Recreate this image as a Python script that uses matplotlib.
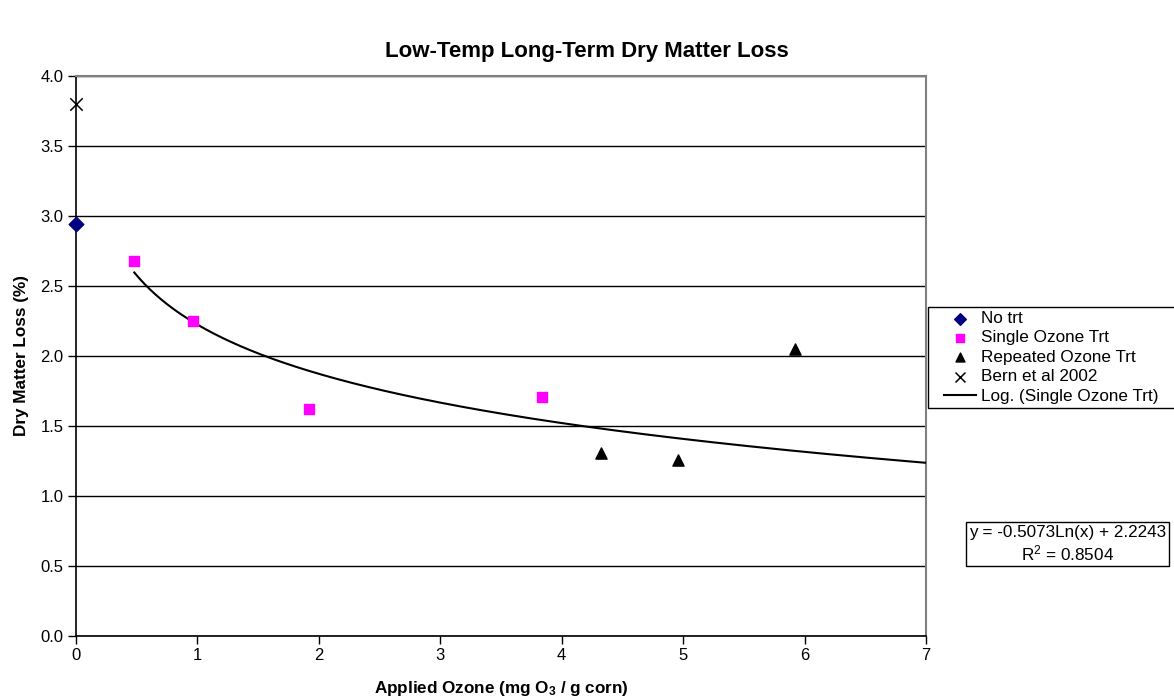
import numpy as np
import matplotlib
matplotlib.use('Agg')
import matplotlib.pyplot as plt
from matplotlib.patches import Rectangle

plt.rcParams['font.family'] = ['Liberation Sans', 'DejaVu Sans']
plt.rcParams['mathtext.default'] = 'regular'

# data
no_trt_x = [0.0]
no_trt_y = [2.94]

single_x = [0.48, 0.96, 1.92, 3.84]
single_y = [2.68, 2.25, 1.62, 1.71]

repeated_x = [4.32, 4.96, 5.92]
repeated_y = [1.31, 1.26, 2.05]

bern_x = [0.0]
bern_y = [3.80]

# log trendline from the chart's equation
fit_a = -0.5073
fit_b = 2.2243
fit_r2 = 0.8504

W, H = 1174, 696
fig = plt.figure(figsize=(W / 100, H / 100), dpi=100)
ax = fig.add_axes([76 / W, 60 / H, 850 / W, 560 / H])

ax.set_xlim(0, 7)
ax.set_ylim(0, 4.0)
ax.set_xticks(range(0, 8))
ax.set_yticks(np.arange(0, 4.01, 0.5))
ax.set_yticklabels([f'{v:.1f}' for v in np.arange(0, 4.01, 0.5)])
ax.tick_params(labelsize=12, length=6, width=1, direction='out', color='black', pad=3)
ax.yaxis.grid(True, color='black', lw=1)
ax.set_axisbelow(True)
for s in ['left', 'bottom']:
    ax.spines[s].set_color('black')
    ax.spines[s].set_linewidth(1.2)
for s in ['top', 'right']:
    ax.spines[s].set_color('#808080')
    ax.spines[s].set_linewidth(1.5)

ax.scatter(no_trt_x, no_trt_y, marker='D', s=55, color='#000080', label='No trt', zorder=5, clip_on=False)
ax.scatter(single_x, single_y, marker='s', s=50, color='#ff00ff', label='Single Ozone Trt', zorder=5)
ax.scatter(repeated_x, repeated_y, marker='^', s=65, color='black', label='Repeated Ozone Trt', zorder=5)
ax.scatter(bern_x, bern_y, marker='x', s=80, color='black', linewidths=1.1, label='Bern et al 2002', zorder=5, clip_on=False)

xs = np.linspace(min(single_x), 7, 300)
ax.plot(xs, fit_a * np.log(xs) + fit_b, color='black', lw=1.5, label='Log. (Single Ozone Trt)', zorder=4)

ax.set_xlabel('Applied Ozone (mg O$_3$ / g corn)', fontsize=12.3, fontweight='bold', labelpad=11)
ax.set_ylabel('Dry Matter Loss (%)', fontsize=12.3, fontweight='bold', labelpad=8)
fig.suptitle('Low-Temp Long-Term Dry Matter Loss', fontsize=16, fontweight='bold', y=1 - 52 / H, va='center')

# legend frame runs off the right edge, as in the original
fig.patches.append(Rectangle((928 / W, 1 - 408 / H), 260 / W, 101 / H, transform=fig.transFigure,
                             fc='white', ec='black', lw=1, zorder=1))
handles, labels = ax.get_legend_handles_labels()
leg = fig.legend(handles, labels, loc='upper left', bbox_to_anchor=(944 / W, 1 - 311 / H),
                 bbox_transform=fig.transFigure, fontsize=12.3, frameon=False, markerscale=0.8,
                 borderpad=0, labelspacing=0.26, handlelength=1.9, handletextpad=0.25,
                 borderaxespad=0)
leg.set_zorder(10)

fig.text(969 / W, 1 - 544 / H,
         f'y = {fit_a:.4f}Ln(x) + {fit_b:.4f}\nR$^2$ = {fit_r2:.4f}',
         ha='left', va='center', multialignment='center', fontsize=12.3, linespacing=1.2,
         bbox=dict(boxstyle='square,pad=0.15', fc='white', ec='black', lw=1))

fig.savefig('out.png', dpi=100)
